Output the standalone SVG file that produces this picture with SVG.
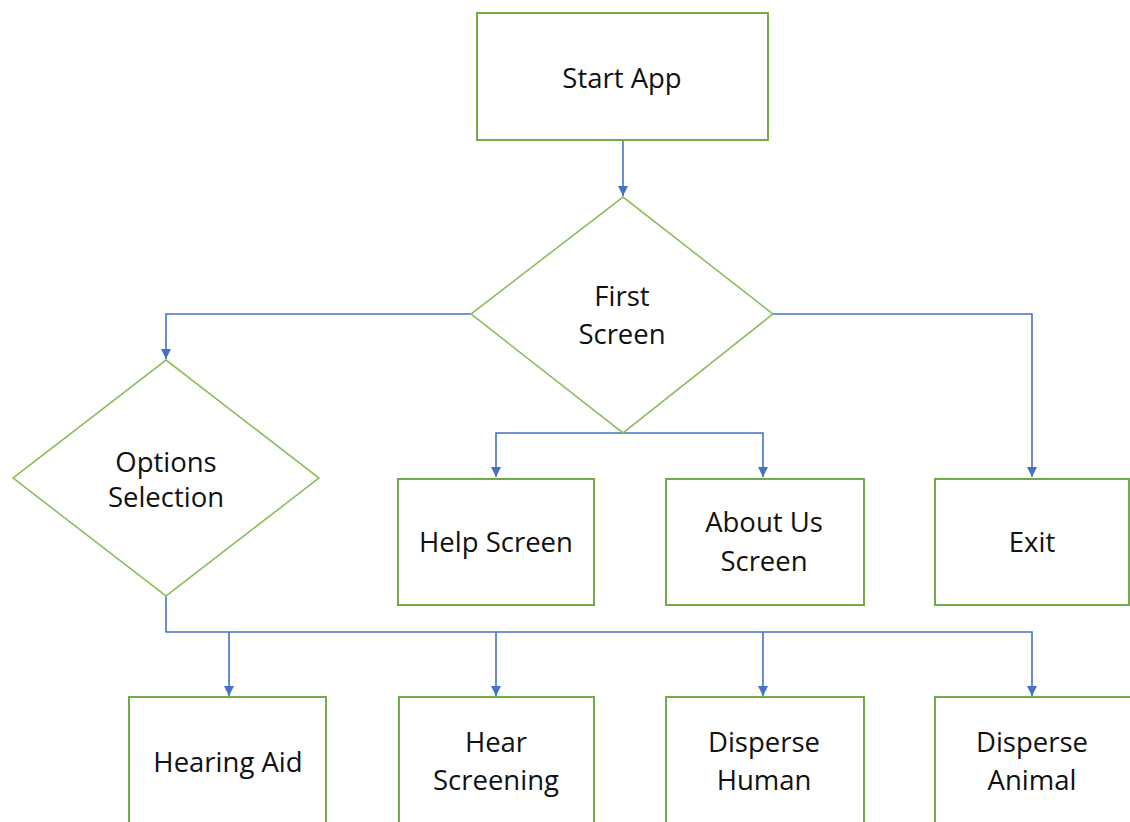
<svg xmlns="http://www.w3.org/2000/svg" width="1130" height="822" viewBox="0 0 1130 822">
<style>
.box{fill:#fff;stroke:#70AD47;stroke-width:2}
.dia{fill:#fff;stroke:#8DBF5E;stroke-width:1.6}
.lbl{font-family:"Open Sans","Liberation Sans",sans-serif;font-size:27.5px;fill:#111;text-anchor:middle}
.con{fill:none;stroke:#4472C4;stroke-width:1.6}
</style>
<defs>
<marker id="arr" markerWidth="10" markerHeight="12" refX="10" refY="5.5" orient="auto" markerUnits="userSpaceOnUse">
<path d="M0,0.5 L10,5.5 L0,10.5 Z" fill="#4472C4"/>
</marker>
</defs>
<rect width="1130" height="822" fill="#fff"/>
<g id="connectors">
<path class="con" d="M623,140 V196" marker-end="url(#arr)"/>
<path class="con" d="M471,314 H166 V359" marker-end="url(#arr)"/>
<path class="con" d="M773,314 H1032 V477" marker-end="url(#arr)"/>
<path class="con" d="M623,433 H496 V477" marker-end="url(#arr)"/>
<path class="con" d="M623,433 H763 V477" marker-end="url(#arr)"/>
<path class="con" d="M166,596 V632 H1032 V696" marker-end="url(#arr)"/>
<path class="con" d="M229,632 V696" marker-end="url(#arr)"/>
<path class="con" d="M496,632 V696" marker-end="url(#arr)"/>
<path class="con" d="M763,632 V696" marker-end="url(#arr)"/>
</g>
<g id="start-app">
<rect class="box" x="477" y="13" width="291" height="127"/>
<text class="lbl" x="622" y="88">Start App</text>
</g>
<g id="first-screen">
<polygon class="dia" points="623,197 773,314 623,433 471,314"/>
<text class="lbl" x="622" y="306">First</text>
<text class="lbl" x="622" y="344">Screen</text>
</g>
<g id="options-selection">
<polygon class="dia" points="166,360 319,478 166,596 13,478"/>
<text class="lbl" x="166" y="472">Options</text>
<text class="lbl" x="166" y="507">Selection</text>
</g>
<g id="help-screen">
<rect class="box" x="398" y="479" width="196" height="126"/>
<text class="lbl" x="496" y="552">Help Screen</text>
</g>
<g id="about-us-screen">
<rect class="box" x="666" y="479" width="198" height="126"/>
<text class="lbl" x="764" y="532">About Us</text>
<text class="lbl" x="764" y="571">Screen</text>
</g>
<g id="exit">
<rect class="box" x="935" y="479" width="194" height="126"/>
<text class="lbl" x="1032" y="552">Exit</text>
</g>
<g id="hearing-aid">
<rect class="box" x="129" y="697" width="197" height="140"/>
<text class="lbl" x="228" y="772">Hearing Aid</text>
</g>
<g id="hear-screening">
<rect class="box" x="399" y="697" width="195" height="140"/>
<text class="lbl" x="496" y="752">Hear</text>
<text class="lbl" x="496" y="790">Screening</text>
</g>
<g id="disperse-human">
<rect class="box" x="666" y="697" width="198" height="140"/>
<text class="lbl" x="764" y="752">Disperse</text>
<text class="lbl" x="764" y="790">Human</text>
</g>
<g id="disperse-animal">
<rect class="box" x="935" y="697" width="210" height="140"/>
<text class="lbl" x="1032" y="752">Disperse</text>
<text class="lbl" x="1032" y="790">Animal</text>
</g>
</svg>
